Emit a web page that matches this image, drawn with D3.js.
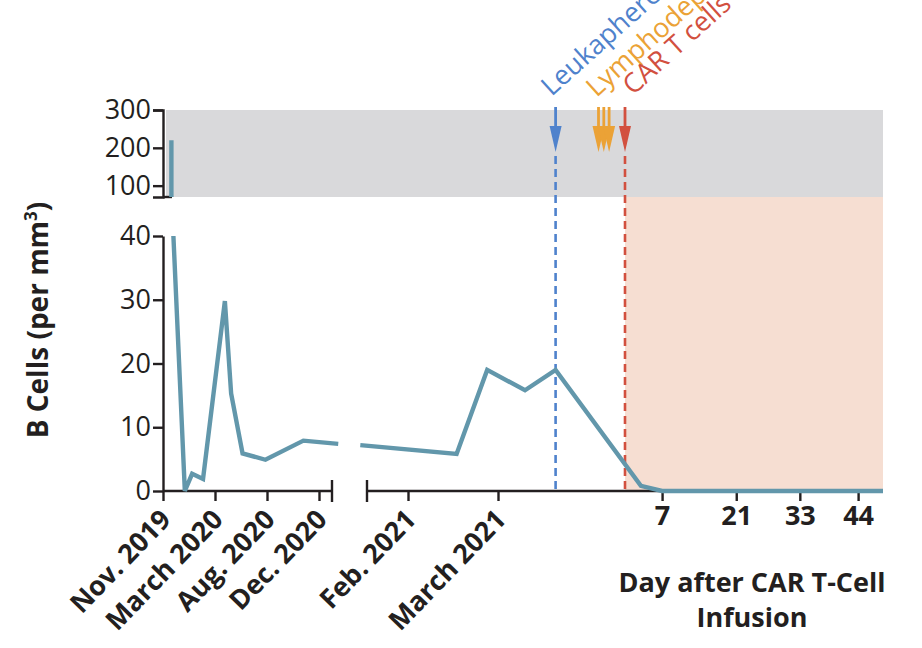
<!DOCTYPE html>
<html>
<head>
<meta charset="utf-8">
<script src="https://cdn.jsdelivr.net/npm/d3@7"></script>
<style>
  html, body { margin: 0; padding: 0; background: #fff; }
  #chart { width: 922px; height: 648px; }
  text { font-family: "Open Sans", "Noto Sans", sans-serif; fill: #231f20; }
</style>
</head>
<body>
<div id="chart"></div>
<script>
// --- data ---
// first stretch of the axis: Nov. 2019 .. Dec. 2020 (ticks evenly spaced, one unit per tick)
const earlyTicks = ["Nov. 2019", "March 2020", "Aug. 2020", "Dec. 2020"];
const earlyPos = [0.2, 0.42, 0.56, 0.77, 1.19, 1.31, 1.53, 1.97, 2.70, 3.37];
const earlyVal = [220, 0, 2.7, 1.9, 29.8, 15.3, 5.9, 4.9, 7.9, 7.4];

// second stretch: Feb. 2021 .. March 2021 up to leukapheresis
const lateTicks = ["Feb. 2021", "March 2021"];
const latePos = [-0.53, 0.54, 0.88, 1.30, 1.64];
const lateVal = [7.2, 5.8, 19, 15.8, 19];

// after infusion, in days
const dayTicks = [7, 21, 33, 44];
const postDay = [3, 7, 21, 33, 44, 48.7];
const postVal = [0.8, 0, 0, 0, 0, 0];

// treatment events
const leukaPos = 1.64;          // on the Feb/March 2021 scale
const lymphoDays = [-5, -4, -3];
const infusionDay = 0;

// --- svg ---
const W = 922, H = 648;
const svg = d3.select("#chart").append("svg")
    .attr("width", W)
    .attr("height", H)
    .attr("viewBox", `0 0 ${W} ${H}`);

const colLine = "#6297ab";
const colBlue = "#4f82cc";
const colOrange = "#eba236";
const colRed = "#d2503f";
const ink = "#231f20";

// scales
const x0 = 163, xBase = 491;
const xEarly = d3.scaleLinear().domain([0, 3.25]).range([x0, 332]);
const xLate = d3.scaleLinear().domain([0, 1]).range([408, 498]);
const xDay = d3.scaleLinear().domain([0, 48.7]).range([625, 883]);
const yLow = d3.scaleLinear().domain([0, 40]).range([xBase, 236]);
const yUp = d3.scaleLinear().domain([70, 300]).range([197, 110]);

const rightEnd = xDay(48.7);

// --- background bands ---
svg.append("rect")
    .attr("x", x0 + 3).attr("y", yUp(300))
    .attr("width", rightEnd - x0 - 3).attr("height", yUp(70) - yUp(300))
    .attr("fill", "#d9d9db");

svg.append("rect")
    .attr("x", xDay(infusionDay)).attr("y", yUp(70))
    .attr("width", rightEnd - xDay(infusionDay)).attr("height", xBase - yUp(70))
    .attr("fill", "#f6ded2");

// --- y axes ---
const axisStyle = g => {
    g.selectAll("path, line").attr("stroke", ink).attr("stroke-width", 2.4);
    g.selectAll("text").style("font-size", "27px").attr("fill", ink);
};

svg.append("g")
    .attr("transform", `translate(${x0},0)`)
    .call(d3.axisLeft(yUp).tickValues([100, 200, 300]).tickSize(10).tickSizeOuter(10).tickPadding(2))
    .call(axisStyle);
// small cap at the bottom of the upper panel
svg.append("line")
    .attr("x1", x0).attr("x2", x0 + 9).attr("y1", yUp(70)).attr("y2", yUp(70))
    .attr("stroke", ink).attr("stroke-width", 2.4);

svg.append("g")
    .attr("transform", `translate(${x0},0)`)
    .call(d3.axisLeft(yLow).tickValues([0, 10, 20, 30, 40]).tickSize(10).tickSizeOuter(0).tickPadding(2))
    .call(axisStyle);

// y title
const yTitle = svg.append("text")
    .attr("transform", "translate(48,320) rotate(-90)")
    .attr("text-anchor", "middle")
    .style("font-size", "28px")
    .style("font-weight", "700");
yTitle.append("tspan").text("B Cells (per mm");
yTitle.append("tspan").attr("baseline-shift", "super").style("font-size", "17px").text("3");
yTitle.append("tspan").text(")");

// --- x axes (broken) ---
const tickLen = 10;
const axisLine = (xa, xb) => svg.append("line")
    .attr("x1", xa).attr("x2", xb).attr("y1", xBase).attr("y2", xBase)
    .attr("stroke", ink).attr("stroke-width", 2.4);
const capLine = xc => svg.append("line")
    .attr("x1", xc).attr("x2", xc).attr("y1", xBase - 11).attr("y2", xBase + 11)
    .attr("stroke", ink).attr("stroke-width", 2.4);

axisLine(x0, xEarly(3.25));
capLine(xEarly(3.25));
axisLine(367, rightEnd);
capLine(367);

const dateAxis = (scale, labels) => {
    const g = svg.append("g").attr("transform", `translate(0,${xBase})`);
    g.call(d3.axisBottom(scale)
        .tickValues(d3.range(labels.length))
        .tickFormat(i => labels[i])
        .tickSize(tickLen).tickSizeOuter(0));
    g.select(".domain").remove();
    g.selectAll("line").attr("stroke", ink).attr("stroke-width", 2.4);
    g.selectAll("text")
        .attr("text-anchor", "end")
        .attr("dy", null).attr("y", 0)
        .attr("transform", "translate(9,30) rotate(-46)")
        .style("font-size", "27px")
        .style("font-weight", "700");
};
dateAxis(xEarly, earlyTicks);
dateAxis(xLate, lateTicks);

const dayG = svg.append("g").attr("transform", `translate(0,${xBase})`);
dayG.call(d3.axisBottom(xDay).tickValues(dayTicks).tickSize(tickLen).tickSizeOuter(0).tickPadding(5));
dayG.select(".domain").remove();
dayG.selectAll("line").attr("stroke", ink).attr("stroke-width", 2.4);
dayG.selectAll("text").style("font-size", "27px").style("font-weight", "700");

svg.append("text")
    .attr("text-anchor", "middle")
    .style("font-size", "27px").style("font-weight", "700")
    .selectAll("tspan")
    .data(["Day after CAR T-Cell", "Infusion"])
    .join("tspan")
    .attr("x", 752)
    .attr("y", (d, i) => 592 + i * 35)
    .text(d => d);

// --- event markers ---
const arrow = (xa, color) => {
    svg.append("line")
        .attr("x1", xa).attr("x2", xa).attr("y1", 107).attr("y2", 132)
        .attr("stroke", color).attr("stroke-width", 2.8);
    svg.append("path")
        .attr("d", `M${xa - 6},126 L${xa + 6},126 L${xa},152 Z`)
        .attr("fill", color);
};

const dashed = (xa, color) => svg.append("line")
    .attr("x1", xa).attr("x2", xa).attr("y1", 156).attr("y2", xBase)
    .attr("stroke", color).attr("stroke-width", 2.6)
    .attr("stroke-dasharray", "8,5");

dashed(xLate(leukaPos), colBlue);
dashed(xDay(infusionDay), colRed);
arrow(xLate(leukaPos), colBlue);
lymphoDays.forEach(d => arrow(xDay(d), colOrange));
arrow(xDay(infusionDay), colRed);

const topLabel = (xa, ya, color, txt) => svg.append("text")
    .attr("transform", `translate(${xa},${ya}) rotate(-42)`)
    .style("font-size", "27px")
    .style("fill", color)
    .text(txt);

topLabel(xLate(leukaPos) - 4, 97, colBlue, "Leukapheresis");
topLabel(xDay(-5) - 2, 98, colOrange, "Lymphodepletion");
topLabel(xDay(infusionDay) + 8, 96, colRed, "CAR T cells");

// --- B-cell line ---
const line = d3.line().x(d => d[0]).y(d => d[1]);

// upper panel: values above 40 drop straight down to the panel floor
earlyPos.forEach((p, i) => {
    if (earlyVal[i] > 40) {
        svg.append("path")
            .attr("d", line([[xEarly(p) - 2, yUp(earlyVal[i])], [xEarly(p) - 2, yUp(70)]]))
            .attr("fill", "none").attr("stroke", colLine).attr("stroke-width", 4.4);
    }
});

// lower panel: values capped at 40
const earlyPts = earlyPos.map((p, i) => [xEarly(p), yLow(Math.min(earlyVal[i], 40))]);
const latePts = latePos.map((p, i) => [xLate(p), yLow(lateVal[i])])
    .concat(postDay.map((d, i) => [xDay(d), yLow(postVal[i])]));

[earlyPts, latePts].forEach(pts => {
    svg.append("path")
        .attr("d", line(pts))
        .attr("fill", "none")
        .attr("stroke", colLine)
        .attr("stroke-width", 4.4)
        .attr("stroke-linejoin", "miter");
});
</script>
</body>
</html>
